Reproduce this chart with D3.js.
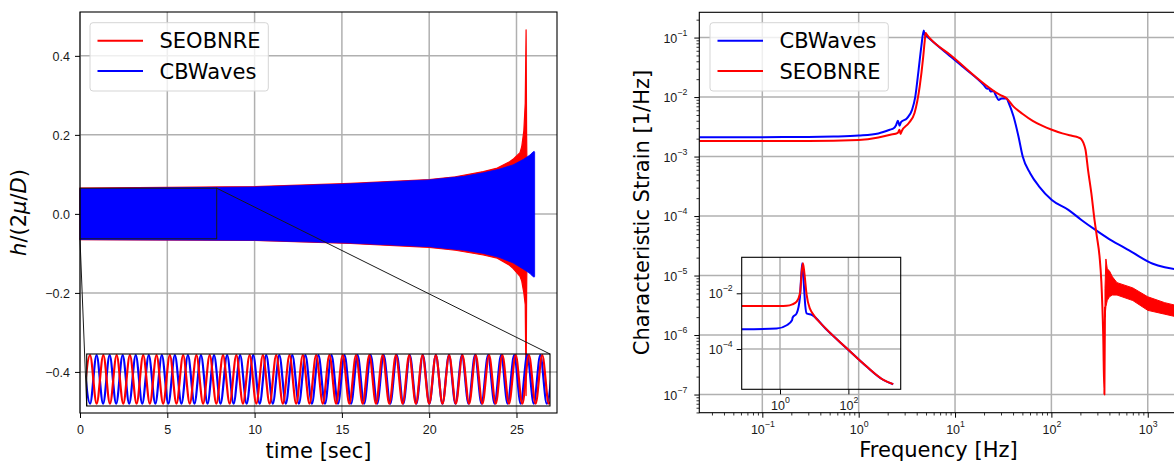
<!DOCTYPE html>
<html>
<head>
<meta charset="utf-8">
<script src="https://cdn.jsdelivr.net/npm/d3@7"></script>
<style>
  body { margin: 0; background: #fff; }
  svg { font-family: 'DejaVu Sans', sans-serif; }
</style>
</head>
<body>
<svg id="svg" width="1174" height="464"></svg>
<script>
// ---------------- left panel : waveform vs time ----------------
var timeTicks = [0, 5, 10, 15, 20, 25];
var ampTicks = [-0.4, -0.2, 0.0, 0.2, 0.4];

// envelope of the dense oscillation (the band you see in the main axes)
var seobEnvTime  = [0, 10, 15.5, 20, 21.5, 23.1, 23.9, 24.6, 24.8, 25.2, 25.3, 25.42, 25.5, 25.55, 25.58, 25.62];
var seobEnvUpper = [0.065, 0.069, 0.077, 0.087, 0.094, 0.107, 0.116, 0.132, 0.138, 0.155, 0.17, 0.21, 0.28, 0.466, 0.2, 0.02];
var seobEnvLower = [-0.065, -0.067, -0.075, -0.085, -0.092, -0.104, -0.112, -0.13, -0.138, -0.158, -0.17, -0.2, -0.23, -0.46, -0.2, -0.02];

var cbwEnvTime  = [0, 10, 15.5, 20, 22, 23.1, 24, 24.8, 25.4, 25.77, 25.95, 26.02, 26.04];
var cbwEnvUpper = [0.064, 0.068, 0.076, 0.086, 0.095, 0.104, 0.113, 0.124, 0.138, 0.149, 0.157, 0.158, 0.156];
var cbwEnvLower = [-0.065, -0.067, -0.074, -0.083, -0.092, -0.100, -0.110, -0.124, -0.140, -0.151, -0.159, -0.160, -0.158];

// zoomed window shown in the inset
var zoomT = [0, 7.83];
var zoomH = [-0.063, 0.065];
var peakH = 0.062;
var troughH = -0.057;
var seobPeaks   = [0.056, 0.281, 0.506, 0.730, 0.955, 1.180, 1.405, 1.630, 1.854, 2.079, 2.304, 2.529, 2.754, 2.978, 3.203, 3.428, 3.653, 3.878, 4.102, 4.327, 4.552, 4.777, 5.002, 5.226, 5.451, 5.676, 5.901, 6.126, 6.350, 6.575, 6.800, 7.025, 7.250, 7.474, 7.699, 7.924];
var seobTroughs = [-0.056, 0.168, 0.393, 0.618, 0.843, 1.067, 1.292, 1.517, 1.742, 1.967, 2.191, 2.416, 2.641, 2.866, 3.091, 3.315, 3.540, 3.765, 3.990, 4.215, 4.439, 4.664, 4.889, 5.114, 5.339, 5.563, 5.788, 6.013, 6.238, 6.463, 6.687, 6.912, 7.137, 7.362, 7.586, 7.811];
var cbwPeaks    = [-0.054, 0.167, 0.388, 0.608, 0.829, 1.049, 1.270, 1.490, 1.711, 1.931, 2.152, 2.373, 2.593, 2.814, 3.034, 3.255, 3.475, 3.696, 3.916, 4.137, 4.357, 4.578, 4.799, 5.019, 5.240, 5.460, 5.681, 5.901, 6.122, 6.342, 6.563, 6.784, 7.004, 7.225, 7.445, 7.666, 7.887];
var cbwTroughs  = [0.057, 0.277, 0.498, 0.718, 0.939, 1.160, 1.380, 1.601, 1.821, 2.042, 2.262, 2.483, 2.703, 2.924, 3.145, 3.365, 3.586, 3.806, 4.027, 4.247, 4.468, 4.688, 4.909, 5.130, 5.350, 5.571, 5.791, 6.012, 6.232, 6.453, 6.673, 6.894, 7.114, 7.335, 7.556, 7.776];

// ---------------- right panel : characteristic strain ----------------
var freqTicks = [0.1, 1, 10, 100, 1000];
var strainTicks = [1e-7, 1e-6, 1e-5, 1e-4, 1e-3, 1e-2, 1e-1];

var cbwFreq   = [0.0222, 0.1, 0.3, 0.55, 1.0, 1.6, 2.1, 2.31, 2.45, 2.55, 2.66, 2.75, 3.17, 3.58, 3.87, 4.19, 4.47, 4.73, 4.85, 5.12, 8.0, 12.4, 19.8, 21.5, 22.4, 23.3, 25.0, 26.5, 28.3, 30.5, 34.4, 35.6, 40.5, 45.5, 50.4, 60.4, 74.7, 101, 150, 205, 284, 398, 582, 709, 1130, 1500, 2048];
var cbwStrain = [2.12e-3, 2.12e-3, 2.13e-3, 2.17e-3, 2.26e-3, 2.45e-3, 2.82e-3, 3.0e-3, 3.4e-3, 4.0e-3, 3.3e-3, 3.8e-3, 4.4e-3, 6.1e-3, 1.02e-2, 2.9e-2, 7.1e-2, 0.132, 0.112, 0.104, 5.6e-2, 3.1e-2, 1.6e-2, 1.38e-2, 1.42e-2, 1.24e-2, 1.26e-2, 1.07e-2, 8.97e-3, 9.5e-3, 9.5e-3, 8.4e-3, 4.7e-3, 2.19e-3, 1.0e-3, 5.2e-4, 3.13e-4, 1.86e-4, 1.27e-4, 8.6e-5, 5.9e-5, 4.1e-5, 2.9e-5, 2.4e-5, 1.58e-5, 1.38e-5, 1.26e-5];

var seobFreq   = [0.0222, 0.3, 1.0, 1.6, 2.13, 2.55, 2.65, 2.72, 2.8, 3.3, 3.8, 4.3, 4.66, 4.85, 4.95, 5.1, 5.4, 8.95, 29.3, 34.4, 40.5, 50, 64, 80, 101, 130, 163, 190, 205, 215, 226, 240, 260, 280, 296, 316, 330, 345, 355, 360];
var seobStrain = [1.82e-3, 1.82e-3, 1.9e-3, 2.09e-3, 2.32e-3, 2.51e-3, 2.82e-3, 2.4e-3, 2.69e-3, 3.63e-3, 5.4e-3, 1.51e-2, 4.5e-2, 8.9e-2, 0.119, 0.112, 0.1, 5.1e-2, 1.09e-2, 9.5e-3, 6.9e-3, 5.25e-3, 3.98e-3, 3.3e-3, 2.82e-3, 2.45e-3, 2.23e-3, 2.1e-3, 1.95e-3, 1.7e-3, 1.3e-3, 6.0e-4, 2.4e-4, 8.7e-5, 4.6e-5, 2.1e-5, 7.9e-6, 1.0e-6, 1.0e-7, 3.0e-6];
// ringing tail above ~360 Hz, drawn as a band
var seobTailFreq  = [360, 368, 380, 400, 430, 480, 700, 1000, 1500, 2048];
var seobTailUpper = [6.0e-6, 1.9e-5, 1.3e-5, 1.2e-5, 9.5e-6, 7.6e-6, 6.2e-6, 4.4e-6, 3.5e-6, 3.1e-6];
var seobTailLower = [2.0e-6, 3.0e-6, 3.8e-6, 4.4e-6, 4.7e-6, 4.7e-6, 3.8e-6, 2.6e-6, 2.24e-6, 2.0e-6];

// inset of the right panel
var insetFreqTicks = [1, 100];
var insetStrainTicks = [1e-4, 1e-2];
var insetSeobFreq   = [0.076, 1.0, 1.57, 2.3, 3.07, 3.85, 4.3, 4.7, 5.18, 6.0, 7.5, 8.7, 21.7, 90, 345, 1060, 2048];
var insetSeobStrain = [3.5e-3, 3.5e-3, 3.55e-3, 4.0e-3, 5.0e-3, 1.0e-2, 5.2e-2, 0.12, 5.2e-2, 8.9e-3, 2.8e-3, 2.0e-3, 5.5e-4, 1.06e-4, 2.34e-5, 7.8e-6, 5.5e-6];
var insetCbwFreq    = [0.076, 0.8, 1.57, 2.25, 2.35, 3.07, 3.85, 4.45, 4.95, 5.5, 6.0, 8.7, 21.7, 90, 345, 1060, 2048];
var insetCbwStrain  = [5.1e-4, 5.4e-4, 7.1e-4, 1.07e-3, 1.35e-3, 1.9e-3, 7.6e-3, 0.12, 2.3e-2, 3.5e-3, 1.9e-3, 1.66e-3, 5.3e-4, 1.05e-4, 2.3e-5, 7.7e-6, 5.4e-6];

var RED = '#ff0000';
var BLUE = '#0000ff';
var GRID = '#b0b0b0';

var svg = d3.select('#svg');

// ---------- helpers ----------
function gridLines(g, vals, scale, horizontal, a, b) {
  g.append('g').selectAll('line').data(vals).join('line')
    .attr(horizontal ? 'y1' : 'x1', d => scale(d))
    .attr(horizontal ? 'y2' : 'x2', d => scale(d))
    .attr(horizontal ? 'x1' : 'y1', a)
    .attr(horizontal ? 'x2' : 'y2', b)
    .attr('stroke', GRID).attr('stroke-width', 1.5);
}

function styleAxis(ax) {
  ax.select('.domain').remove();
  ax.selectAll('.tick line').attr('stroke', '#000').attr('stroke-width', 1);
  ax.selectAll('.tick text').attr('fill', '#1a1a1a').style('font-size', '12.5px');
}

function powLabel(sel) {
  sel.each(function (d) {
    var e = Math.round(Math.log10(d));
    var t = d3.select(this).text('10');
    t.append('tspan').attr('dy', -7).style('font-size', '8.75px')
      .text(e < 0 ? '\u2212' + (-e) : String(e));
  });
}

function minorTicks(scale) {
  return scale.ticks().filter(v => Math.abs(Math.log10(v) - Math.round(Math.log10(v))) > 1e-6);
}

function legend(x, y, w, h, items) {
  var g = svg.append('g').attr('transform', `translate(${x},${y})`);
  g.append('rect').attr('width', w).attr('height', h).attr('rx', 3)
    .attr('fill', '#fff').attr('fill-opacity', 0.8)
    .attr('stroke', '#d5d5d5').attr('stroke-width', 1);
  items.forEach((it, i) => {
    var cy = 18 + i * 30.3;
    g.append('line').attr('x1', 7.5).attr('x2', 53).attr('y1', cy).attr('y2', cy)
      .attr('stroke', it.color).attr('stroke-width', 2);
    g.append('text').attr('x', 69.5).attr('y', cy + 7.6)
      .style('font-size', '21px').attr('fill', '#000').text(it.label);
  });
}

// ================= LEFT PANEL =================
var L = { left: 80, right: 557, top: 12, bottom: 413 };
var xT = d3.scaleLinear().domain([0, 27.32]).range([L.left, L.right]);
var yH = d3.scaleLinear().domain([-0.504, 0.511]).range([L.bottom, L.top]);

var gL = svg.append('g');
gridLines(gL, timeTicks, xT, false, L.top, L.bottom);
gridLines(gL, ampTicks, yH, true, L.left, L.right);

var envArea = d3.area().x(d => xT(d.t)).y0(d => yH(d.lo)).y1(d => yH(d.hi));
var seobEnv = seobEnvTime.map((t, i) => ({ t: t, hi: seobEnvUpper[i], lo: seobEnvLower[i] }));
var cbwEnv = cbwEnvTime.map((t, i) => ({ t: t, hi: cbwEnvUpper[i], lo: cbwEnvLower[i] }));

gL.append('path').attr('d', envArea(seobEnv))
  .attr('fill', RED).attr('stroke', RED).attr('stroke-width', 1.2).attr('stroke-linejoin', 'round');
gL.append('path').attr('d', envArea(cbwEnv))
  .attr('fill', BLUE).attr('stroke', BLUE).attr('stroke-width', 0.8);

// zoom indicator + connectors
var LI = { left: 86.7, right: 550, top: 354, bottom: 406 };
gL.append('rect')
  .attr('x', xT(zoomT[0])).attr('y', yH(zoomH[1]))
  .attr('width', xT(zoomT[1]) - xT(zoomT[0])).attr('height', yH(zoomH[0]) - yH(zoomH[1]))
  .attr('fill', 'none').attr('stroke', '#1a1a1a').attr('stroke-width', 1);
gL.append('line').attr('x1', xT(zoomT[0])).attr('y1', yH(zoomH[0]))
  .attr('x2', LI.left).attr('y2', LI.bottom).attr('stroke', '#1a1a1a').attr('stroke-width', 1);
gL.append('line').attr('x1', xT(zoomT[1])).attr('y1', yH(zoomH[1]))
  .attr('x2', LI.right).attr('y2', LI.top).attr('stroke', '#1a1a1a').attr('stroke-width', 1);

// inset waves
var xI = d3.scaleLinear().domain(zoomT).range([LI.left, LI.right]);
var yI = d3.scaleLinear().domain(zoomH).range([LI.bottom, LI.top]);
svg.append('clipPath').attr('id', 'clipLI').append('rect')
  .attr('x', LI.left).attr('y', LI.top - 2).attr('width', LI.right - LI.left).attr('height', LI.bottom - LI.top + 4);
function extrema(peaks, troughs) {
  return peaks.map(t => ({ t: t, v: peakH })).concat(troughs.map(t => ({ t: t, v: troughH })))
    .sort((a, b) => a.t - b.t);
}
var waveLine = d3.line().x(d => xI(d.t)).y(d => yI(d.v)).curve(d3.curveMonotoneX);
var gLI = gL.append('g').attr('clip-path', 'url(#clipLI)');
gLI.append('path').attr('d', waveLine(extrema(cbwPeaks, cbwTroughs)))
  .attr('fill', 'none').attr('stroke', BLUE).attr('stroke-width', 2.2);
gLI.append('path').attr('d', waveLine(extrema(seobPeaks, seobTroughs)))
  .attr('fill', 'none').attr('stroke', RED).attr('stroke-width', 2.2);
gL.append('rect').attr('x', LI.left).attr('y', LI.top)
  .attr('width', LI.right - LI.left).attr('height', LI.bottom - LI.top)
  .attr('fill', 'none').attr('stroke', '#000').attr('stroke-width', 1.1);

// axes
var axLB = gL.append('g').attr('transform', `translate(0,${L.bottom})`)
  .call(d3.axisBottom(xT).tickValues(timeTicks).tickSize(5).tickFormat(d3.format('d')));
styleAxis(axLB);
axLB.selectAll('.tick text').attr('y', 21).attr('dy', null);
var axLL = gL.append('g').attr('transform', `translate(${L.left},0)`)
  .call(d3.axisLeft(yH).tickValues(ampTicks).tickSize(5).tickFormat(d3.format('.1f')));
styleAxis(axLL);
axLL.selectAll('.tick text').attr('x', -10).attr('dy', '0.36em');

gL.append('rect').attr('x', L.left).attr('y', L.top)
  .attr('width', L.right - L.left).attr('height', L.bottom - L.top)
  .attr('fill', 'none').attr('stroke', '#000').attr('stroke-width', 1.1);

gL.append('text').attr('x', (L.left + L.right) / 2).attr('y', 457.5)
  .attr('text-anchor', 'middle').style('font-size', '21px').text('time [sec]');
var yl = gL.append('text').attr('transform', `translate(25.5,${(L.top + L.bottom) / 2}) rotate(-90)`)
  .attr('text-anchor', 'middle').style('font-size', '21px');
yl.append('tspan').style('font-style', 'italic').text('h');
yl.append('tspan').text('/(2');
yl.append('tspan').style('font-style', 'italic').text('\u03bc');
yl.append('tspan').text('/');
yl.append('tspan').style('font-style', 'italic').text('D');
yl.append('tspan').text(')');

legend(90, 22.7, 178.3, 68.3, [{ label: 'SEOBNRE', color: RED }, { label: 'CBWaves', color: BLUE }]);

// ================= RIGHT PANEL =================
var R = { left: 699.3, right: 1177.7, top: 12.3, bottom: 412.7 };
var xF = d3.scaleLog().domain([0.02218, 2046]).range([R.left, R.right]);
var yS = d3.scaleLog().domain([4.95e-8, 0.266]).range([R.bottom, R.top]);

var gR = svg.append('g');
gridLines(gR, freqTicks, xF, false, R.top, R.bottom);
gridLines(gR, strainTicks, yS, true, R.left, R.right);

var strainLine = d3.line().x(d => xF(d.f)).y(d => yS(d.s)).curve(d3.curveMonotoneX);
gR.append('path').attr('d', strainLine(cbwFreq.map((f, i) => ({ f: f, s: cbwStrain[i] }))))
  .attr('fill', 'none').attr('stroke', BLUE).attr('stroke-width', 2).attr('stroke-linejoin', 'round');
gR.append('path').attr('d', strainLine(seobFreq.map((f, i) => ({ f: f, s: seobStrain[i] }))))
  .attr('fill', 'none').attr('stroke', RED).attr('stroke-width', 2).attr('stroke-linejoin', 'round');
var tailArea = d3.area().x(d => xF(d.f)).y0(d => yS(d.lo)).y1(d => yS(d.hi));
gR.append('path')
  .attr('d', tailArea(seobTailFreq.map((f, i) => ({ f: f, hi: seobTailUpper[i], lo: seobTailLower[i] }))))
  .attr('fill', RED).attr('stroke', RED).attr('stroke-width', 1);

// inset
var RI = { left: 741.7, right: 900.7, top: 257.3, bottom: 389.3 };
var xFI = d3.scaleLog().domain([0.0759, 3388]).range([RI.left, RI.right]);
var ySI = d3.scaleLog().domain([3.57e-6, 0.196]).range([RI.bottom, RI.top]);
gridLines(gR, insetFreqTicks, xFI, false, RI.top, RI.bottom);
gridLines(gR, insetStrainTicks, ySI, true, RI.left, RI.right);
var insetLine = d3.line().x(d => xFI(d.f)).y(d => ySI(d.s)).curve(d3.curveMonotoneX);
gR.append('path').attr('d', insetLine(insetCbwFreq.map((f, i) => ({ f: f, s: insetCbwStrain[i] }))))
  .attr('fill', 'none').attr('stroke', BLUE).attr('stroke-width', 2).attr('stroke-linejoin', 'round');
gR.append('path').attr('d', insetLine(insetSeobFreq.map((f, i) => ({ f: f, s: insetSeobStrain[i] }))))
  .attr('fill', 'none').attr('stroke', RED).attr('stroke-width', 2).attr('stroke-linejoin', 'round');
var axIB = gR.append('g').attr('transform', `translate(0,${RI.bottom})`)
  .call(d3.axisBottom(xFI).tickValues(insetFreqTicks).tickSize(5).tickFormat(() => ''));
styleAxis(axIB);
axIB.selectAll('.tick text').attr('y', 20.5).attr('dy', null).call(powLabel);
var axIL = gR.append('g').attr('transform', `translate(${RI.left},0)`)
  .call(d3.axisLeft(ySI).tickValues(insetStrainTicks).tickSize(5).tickFormat(() => ''));
styleAxis(axIL);
axIL.selectAll('.tick text').attr('x', -9).attr('dy', '0.36em').call(powLabel);
gR.append('rect').attr('x', RI.left).attr('y', RI.top)
  .attr('width', RI.right - RI.left).attr('height', RI.bottom - RI.top)
  .attr('fill', 'none').attr('stroke', '#000').attr('stroke-width', 1.1);

// main axes
var axRB = gR.append('g').attr('transform', `translate(0,${R.bottom})`)
  .call(d3.axisBottom(xF).tickValues(freqTicks).tickSize(5).tickFormat(() => ''));
styleAxis(axRB);
axRB.selectAll('.tick text').attr('y', 21).attr('dy', null).call(powLabel);
var axRBm = gR.append('g').attr('transform', `translate(0,${R.bottom})`)
  .call(d3.axisBottom(xF).tickValues(minorTicks(xF)).tickSize(2.8).tickFormat(() => ''));
styleAxis(axRBm);
axRBm.selectAll('.tick line').attr('stroke-width', 0.8);
var axRL = gR.append('g').attr('transform', `translate(${R.left},0)`)
  .call(d3.axisLeft(yS).tickValues(strainTicks).tickSize(5).tickFormat(() => ''));
styleAxis(axRL);
axRL.selectAll('.tick text').attr('x', -12).attr('dy', '0.36em').call(powLabel);
var axRLm = gR.append('g').attr('transform', `translate(${R.left},0)`)
  .call(d3.axisLeft(yS).tickValues(minorTicks(yS)).tickSize(2.8).tickFormat(() => ''));
styleAxis(axRLm);
axRLm.selectAll('.tick line').attr('stroke-width', 0.8);

gR.append('rect').attr('x', R.left).attr('y', R.top)
  .attr('width', R.right - R.left).attr('height', R.bottom - R.top)
  .attr('fill', 'none').attr('stroke', '#000').attr('stroke-width', 1.1);

gR.append('text').attr('x', (R.left + R.right) / 2).attr('y', 457)
  .attr('text-anchor', 'middle').style('font-size', '21px').text('Frequency [Hz]');
gR.append('text').attr('transform', `translate(649,${(R.top + R.bottom) / 2}) rotate(-90)`)
  .attr('text-anchor', 'middle').style('font-size', '21px').text('Characteristic Strain [1/Hz]');

legend(710, 22.7, 178.3, 68.3, [{ label: 'CBWaves', color: BLUE }, { label: 'SEOBNRE', color: RED }]);
</script>
</body>
</html>
